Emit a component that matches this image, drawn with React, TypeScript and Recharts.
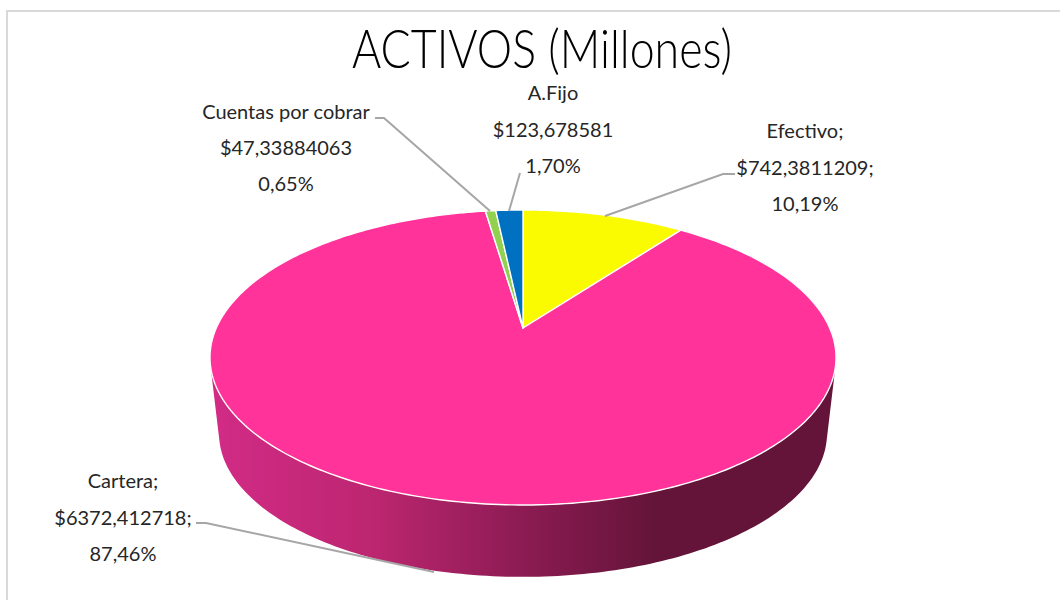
import { Cell, Pie, PieChart } from 'recharts';

const names = ['Efectivo', 'Cartera', 'Cuentas por cobrar', 'A.Fijo'];
const values = [742.3811209, 6372.412718, 47.33884063, 123.678581];
const separators = [';', ';', '', ''];
const colors = ['#FAFA00', '#FF3399', '#92D050', '#0070C0'];

const total = values.reduce((a, b) => a + b, 0);
const rows = names.map((name, i) => ({ name, value: values[i] }));

// where each label sits: center x and the three line baselines
const labelX = [805, 123, 286, 553];
const labelY = [
  [138, 175, 211],
  [488, 525, 561],
  [119, 155, 191],
  [100, 137, 173],
];
const leaders = [
  '735,174 723,174 605,216',
  '196,523 206,523 434,572',
  '375,118 384,118 490,211',
  '520,173 509,211',
];

// perspective of the tilted disc
const K = 0.2;
const SQUASH = 0.4617;
const DEPTH = 77;
const BOTTOM_SCALE = 0.971;

function project(cx: number, cy: number, r: number, deg: number) {
  const t = (deg * Math.PI) / 180;
  const x = Math.cos(t);
  const z = -Math.sin(t);
  const s = 1 / (1 - K * z);
  return [cx + r * x * s, cy + r * SQUASH * z * s];
}

function arcAngles(start: number, end: number) {
  const steps = Math.max(2, Math.ceil(Math.abs(end - start)));
  const out: number[] = [];
  for (let i = 0; i <= steps; i++) out.push(start + ((end - start) * i) / steps);
  return out;
}

function TopFace(props: any) {
  const { cx, cy, outerRadius, startAngle, endAngle, fill } = props;
  const pts = arcAngles(startAngle, endAngle).map((a) => project(cx, cy, outerRadius, a));
  const d = `M${cx},${cy} ` + pts.map((p) => `L${p[0]},${p[1]}`).join(' ') + ' Z';
  return <path d={d} fill={fill} stroke="#fff" strokeWidth={1.4} strokeLinejoin="round" />;
}

function SideWall(props: any) {
  const { cx, cy, outerRadius, startAngle, endAngle, fill } = props;
  const top = arcAngles(startAngle, endAngle).map((a) => project(cx, cy, outerRadius, a));
  const low = top.map((p) => [cx + (p[0] - cx) * BOTTOM_SCALE, cy + DEPTH + (p[1] - cy) * BOTTOM_SCALE]);
  let d = '';
  for (let i = 0; i < top.length - 1; i++) {
    const q = [top[i], top[i + 1], low[i + 1], low[i]];
    const area = q.reduce((acc, p, j) => {
      const n = q[(j + 1) % 4];
      return acc + p[0] * n[1] - n[0] * p[1];
    }, 0);
    if (area < 0) q.reverse();
    d += 'M' + q.map((p) => `${p[0]},${p[1]}`).join('L') + 'Z';
  }
  return <path d={d} fill={fill} stroke="none" />;
}

function renderLabel(props: any) {
  const i = props.index;
  const money = '$' + String(values[i]).replace('.', ',');
  const pct = ((values[i] / total) * 100).toFixed(2).replace('.', ',') + '%';
  const lines = [names[i] + separators[i], money + separators[i], pct];
  return (
    <g>
      <polyline points={leaders[i]} fill="none" stroke="#A6A6A6" strokeWidth={2} />
      {lines.map((t, j) => (
        <text
          key={j}
          x={labelX[i]}
          y={labelY[i][j]}
          textAnchor="middle"
          fontFamily="Lato, sans-serif"
          fontSize={20}
          fill="#262626"
        >
          {t}
        </text>
      ))}
    </g>
  );
}

export default function App() {
  return (
    <div style={{ position: 'absolute', left: 0, top: 0, width: 1060, height: 600, background: '#fff', overflow: 'hidden' }}>
      <div style={{ position: 'absolute', left: 6, top: 10, right: 0, height: 2, background: '#D9D9D9' }} />
      <div style={{ position: 'absolute', left: 6, top: 10, bottom: 0, width: 2, background: '#D9D9D9' }} />
      <PieChart
        width={1060}
        height={600}
        margin={{ top: 0, right: 0, bottom: 0, left: 0 }}
        style={{ position: 'absolute', left: 0, top: 0 }}
      >
        <defs>
          <linearGradient id="wall" gradientUnits="userSpaceOnUse" x1="220" y1="0" x2="660" y2="0">
            <stop offset="0" stopColor="#D12B85" />
            <stop offset="0.35" stopColor="#BC2670" />
            <stop offset="0.7" stopColor="#8A1B52" />
            <stop offset="1" stopColor="#631438" />
          </linearGradient>
        </defs>
        <text
          x={542}
          y={68}
          textAnchor="middle"
          textLength={380}
          lengthAdjust="spacingAndGlyphs"
          fontFamily="Lato, sans-serif"
          fontWeight={300}
          fontSize={53}
          fill="#000"
        >
          ACTIVOS (Millones)
        </text>
        <Pie
          data={rows}
          dataKey="value"
          nameKey="name"
          cx={523}
          cy={328}
          outerRadius={306.7}
          startAngle={90}
          endAngle={-270}
          shape={SideWall}
          labelLine={false}
          isAnimationActive={false}
        >
          {rows.map((r) => (
            <Cell key={r.name} fill="url(#wall)" />
          ))}
        </Pie>
        <Pie
          data={rows}
          dataKey="value"
          nameKey="name"
          cx={523}
          cy={328}
          outerRadius={306.7}
          startAngle={90}
          endAngle={-270}
          shape={TopFace}
          label={renderLabel}
          labelLine={false}
          isAnimationActive={false}
        >
          {rows.map((r, i) => (
            <Cell key={r.name} fill={colors[i]} />
          ))}
        </Pie>
      </PieChart>
    </div>
  );
}
